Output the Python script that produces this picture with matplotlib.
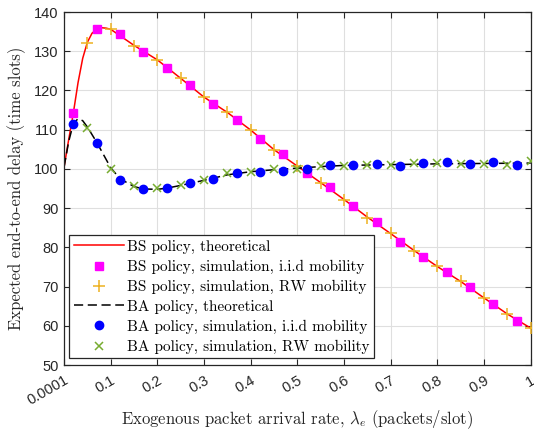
import matplotlib
matplotlib.use('Agg')
import matplotlib.pyplot as plt
import numpy as np

# arrival rates for the simulated points
lam_sq = [0.02, 0.07, 0.12, 0.17, 0.22, 0.27, 0.32, 0.37, 0.42, 0.47,
          0.52, 0.57, 0.62, 0.67, 0.72, 0.77, 0.82, 0.87, 0.92, 0.97]
lam_rw = [0.05, 0.10, 0.15, 0.20, 0.25, 0.30, 0.35, 0.40, 0.45, 0.50,
          0.55, 0.60, 0.65, 0.70, 0.75, 0.80, 0.85, 0.90, 0.95, 1.00]

# BS policy
bs_theory_lam = [0.0001, 0.01, 0.02, 0.03, 0.04, 0.05, 0.06, 0.07, 0.08, 0.09, 0.10,
                 0.15, 0.20, 0.25, 0.30, 0.35, 0.40, 0.45, 0.50, 0.55, 0.60,
                 0.65, 0.70, 0.75, 0.80, 0.85, 0.90, 0.95, 1.00]
bs_theory = [100.5, 107.5, 114.3, 122.0, 128.2, 132.3, 134.6, 135.6, 136.0, 135.9, 135.6,
             131.5, 127.8, 123.1, 118.3, 114.4, 109.9, 104.9, 100.7, 96.5, 92.2,
             87.7, 83.5, 79.2, 75.1, 71.3, 67.1, 63.0, 59.4]
bs_iid = [114.3, 135.6, 134.4, 129.7, 125.7, 121.4, 116.5, 112.5, 107.7, 103.8,
          99.0, 95.3, 90.5, 86.5, 81.5, 77.6, 73.8, 70.0, 65.5, 61.2]
bs_rw = [132.2, 135.7, 131.4, 127.8, 123.1, 118.3, 114.4, 109.9, 104.8, 100.8,
         96.5, 92.2, 87.6, 83.6, 79.1, 75.2, 71.4, 67.0, 62.9, 59.4]

# BA policy
ba_theory_lam = [0.0001, 0.01, 0.02, 0.03, 0.04, 0.05, 0.07, 0.10, 0.12, 0.15, 0.17,
                 0.20, 0.22, 0.25, 0.30, 0.35, 0.40, 0.45, 0.50, 0.55, 0.60,
                 0.70, 0.80, 0.90, 1.00]
ba_theory = [100.5, 107.0, 111.6, 112.8, 112.3, 110.7, 106.8, 100.3, 97.5, 95.5, 94.9,
             94.8, 95.1, 95.8, 97.1, 98.5, 99.3, 99.8, 100.2, 100.6, 100.9,
             101.1, 101.3, 101.4, 101.5]
ba_iid = [111.4, 106.7, 97.1, 94.9, 95.2, 96.3, 97.5, 99.0, 99.2, 99.5,
          100.0, 101.1, 101.1, 101.3, 100.8, 101.5, 101.7, 101.3, 101.8, 101.1]
ba_rw = [110.4, 100.0, 95.7, 95.2, 96.0, 97.2, 98.9, 99.1, 99.9, 100.1,
         100.8, 100.8, 101.1, 101.1, 101.5, 101.5, 101.3, 101.3, 101.1, 102.0]

xticks = [0.0001, 0.1, 0.2, 0.3, 0.4, 0.5, 0.6, 0.7, 0.8, 0.9, 1]
xtick_labels = ['0.0001', '0.1', '0.2', '0.3', '0.4', '0.5', '0.6', '0.7', '0.8', '0.9', '1']

plt.rcParams['mathtext.fontset'] = 'cm'
plt.rcParams['axes.unicode_minus'] = False
serif = 'cmr10'

fig = plt.figure(figsize=(5.34, 4.30), dpi=100)
ax = fig.add_axes([0.12, 0.151, 0.874, 0.821])

ax.plot(bs_theory_lam, bs_theory, '-', color='#ff0000', lw=1.1,
        label='BS policy, theoretical', zorder=2)
ax.plot(lam_sq, bs_iid, 's', color='#ff00ff', ms=5.5, ls='none',
        label='BS policy, simulation, i.i.d mobility', zorder=3)
ax.plot(lam_rw, bs_rw, '+', color='#edb120', ms=9, mew=1.1, ls='none',
        label='BS policy, simulation, RW mobility', zorder=4)
ax.plot(ba_theory_lam, ba_theory, '--', color='black', lw=1.1, dashes=(6, 3),
        label='BA policy, theoretical', zorder=2)
ax.plot(lam_sq, ba_iid, 'o', color='#0000ff', ms=6, ls='none',
        label='BA policy, simulation, i.i.d mobility', zorder=3)
ax.plot(lam_rw, ba_rw, 'x', color='#77ac30', ms=6, mew=1.1, ls='none',
        label='BA policy, simulation, RW mobility', zorder=4)

ax.set_xlim(0.0001, 1)
ax.set_ylim(50, 140)
ax.set_xticks(xticks)
ax.set_xticklabels(xtick_labels, rotation=30, ha='right', rotation_mode='anchor',
                   family='Liberation Sans', fontsize=10.5, color='#262626')
ax.set_yticks(np.arange(50, 141, 10))
for t in ax.get_yticklabels():
    t.set_family('Liberation Sans')
    t.set_fontsize(10.5)
    t.set_color('#262626')
ax.tick_params(direction='in', top=True, right=True, length=4, width=0.8, colors='#262626')
ax.tick_params(axis='x', pad=6)
ax.tick_params(axis='y', pad=4)
ax.grid(True, color='#dfdfdf', lw=0.8)
ax.set_axisbelow(True)
for s in ax.spines.values():
    s.set_color('#262626')
    s.set_linewidth(0.9)

ax.set_xlabel(r'Exogenous packet arrival rate, $\lambda_e$ (packets/slot)',
              family=serif, fontsize=12, color='#262626')
ax.xaxis.set_label_coords(0.5, -0.122)
ax.set_ylabel('Expected end-to-end delay (time slots)',
              family=serif, fontsize=12, color='#262626', labelpad=6)

leg = ax.legend(loc='lower left', bbox_to_anchor=(0.005, 0.01), fancybox=False,
                framealpha=1, edgecolor='#262626', handlelength=3.3, handletextpad=0.15,
                borderpad=0.3, labelspacing=0.38, borderaxespad=0.2,
                prop={'family': serif, 'size': 11})
leg.get_frame().set_linewidth(0.9)

fig.savefig('out.png', dpi=100)
